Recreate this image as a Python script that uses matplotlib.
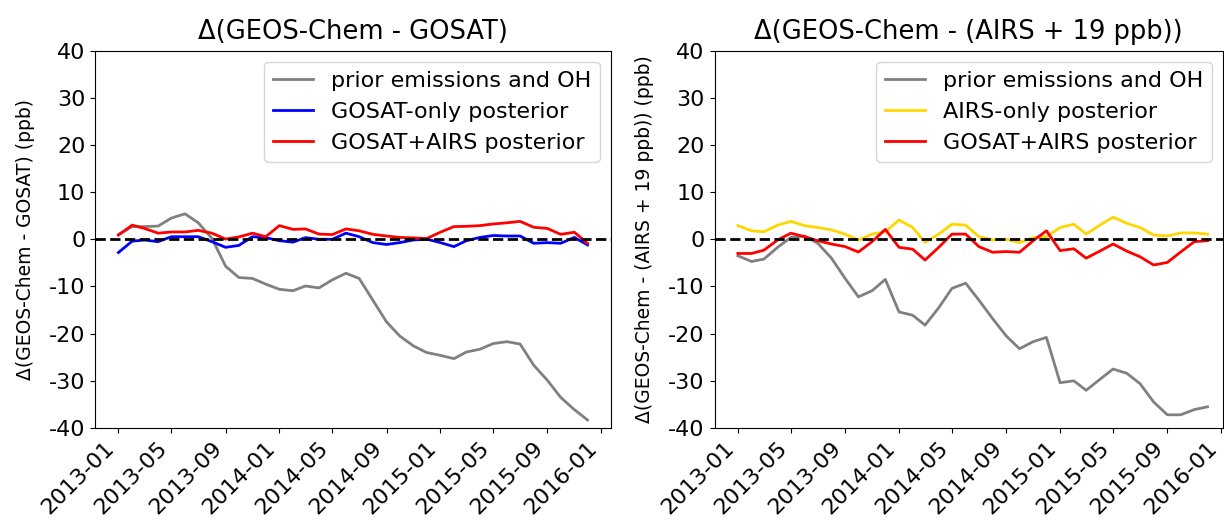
import numpy as np
import pandas as pd
import matplotlib
matplotlib.use("Agg")
import matplotlib.pyplot as plt
import matplotlib.dates as mdates

plt.rcParams['axes.unicode_minus'] = False

# monthly values, 2013-01 .. 2015-12
months = pd.date_range("2013-01-01", "2015-12-01", freq="MS")

gosat_prior = [1.0, 2.7, 2.7, 2.8, 4.5, 5.4, 3.5, 0.2, -5.7, -8.1, -8.3, -9.5,
               -10.6, -10.9, -9.9, -10.3, -8.6, -7.2, -8.3, -12.9, -17.5, -20.5, -22.6, -24.0,
               -24.6, -25.3, -23.9, -23.3, -22.1, -21.7, -22.2, -26.7, -29.9, -33.5, -36.1, -38.3]
gosat_only = [-2.8, -0.4, -0.15, -0.5, 0.55, 0.55, 0.55, -0.5, -1.7, -1.3, 0.55, 0.35,
              -0.3, -0.6, 0.35, 0.0, 0.0, 1.3, 0.55, -0.7, -1.1, -0.7, -0.15, 0.05,
              -0.7, -1.55, -0.3, 0.4, 0.8, 0.7, 0.7, -0.85, -0.7, -0.85, 0.4, -1.2]
gosat_joint = [0.9, 3.0, 2.3, 1.3, 1.55, 1.55, 1.9, 1.3, 0.05, 0.5, 1.3, 0.55,
               2.9, 2.1, 2.2, 1.1, 1.0, 2.2, 1.8, 1.05, 0.7, 0.4, 0.3, 0.15,
               1.5, 2.7, 2.75, 2.9, 3.25, 3.5, 3.8, 2.55, 2.3, 1.05, 1.5, -0.85]

airs_prior = [-3.5, -4.7, -4.2, -1.7, 0.4, 0.7, -0.85, -4.0, -8.3, -12.2, -10.9, -8.5,
              -15.4, -16.1, -18.2, -14.5, -10.4, -9.3, -12.9, -16.8, -20.5, -23.2, -21.7, -20.8,
              -30.4, -30.0, -32.0, -29.7, -27.5, -28.4, -30.6, -34.5, -37.2, -37.2, -36.1, -35.5]
airs_only = [2.9, 1.8, 1.6, 3.0, 3.8, 2.9, 2.5, 2.0, 1.1, -0.15, 1.1, 1.6,
             4.1, 2.5, -0.65, 1.1, 3.2, 3.0, 0.55, -0.15, 0.0, -0.7, 0.35, 0.55,
             2.5, 3.2, 1.1, 3.0, 4.7, 3.4, 2.5, 0.9, 0.7, 1.35, 1.35, 1.1]
airs_joint = [-3.0, -3.0, -2.3, -0.15, 1.3, 0.55, -0.3, -1.0, -1.55, -2.7, -0.5, 2.1,
              -1.7, -2.1, -4.4, -1.7, 1.1, 1.1, -1.55, -2.75, -2.6, -2.75, -0.3, 1.8,
              -2.4, -2.0, -4.0, -2.5, -1.0, -2.5, -3.7, -5.45, -4.9, -2.7, -0.5, -0.3]

titles = ["Δ(GEOS-Chem - GOSAT)", "Δ(GEOS-Chem - (AIRS + 19 ppb))"]
ylabels = ["Δ(GEOS-Chem - GOSAT) (ppb)", "Δ(GEOS-Chem - (AIRS + 19 ppb)) (ppb)"]

fig = plt.figure(figsize=(12.24, 5.21), dpi=100)
W, H = 1224, 521
ax1 = fig.add_axes([95 / W, (H - 428) / H, (611 - 95) / W, (428 - 50.6) / H])
ax2 = fig.add_axes([714.5 / W, (H - 428) / H, (1223 - 714.5) / W, (428 - 50.6) / H])

panels = [
    (ax1, [(gosat_prior, "gray", "prior emissions and OH"),
           (gosat_only, "blue", "GOSAT-only posterior"),
           (gosat_joint, "red", "GOSAT+AIRS posterior")]),
    (ax2, [(airs_prior, "gray", "prior emissions and OH"),
           (airs_only, "gold", "AIRS-only posterior"),
           (airs_joint, "red", "GOSAT+AIRS posterior")]),
]

for k, (ax, series) in enumerate(panels):
    for vals, col, lab in series:
        ax.plot(months, vals, color=col, lw=2, label=lab)
    ax.axhline(0, color="k", ls="--", lw=2)
    ax.set_ylim(-40, 40)
    ax.set_yticks(np.arange(-40, 41, 10))
    ax.set_title(titles[k], fontsize=18.5, pad=8)
    ax.set_ylabel(ylabels[k], fontsize=13.5, labelpad=10)
    ax.xaxis.set_major_locator(mdates.MonthLocator(bymonth=[1, 5, 9]))
    ax.xaxis.set_major_formatter(mdates.DateFormatter("%Y-%m"))
    ax.tick_params(labelsize=16)
    plt.setp(ax.get_xticklabels(), rotation=45, ha="right")
    ax.legend(loc="upper right", fontsize=16, handlelength=1.8)

ax2.set_xlim(pd.Timestamp("2012-11-09"), pd.Timestamp("2016-01-05"))

fig.savefig("out.png", dpi=100)
